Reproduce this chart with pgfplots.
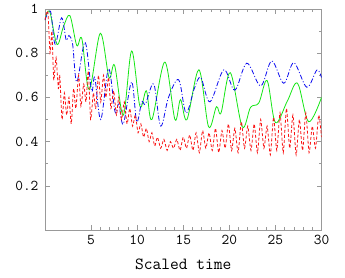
\documentclass[border=0pt]{standalone}
\usepackage{pgfplots}
\pgfplotsset{compat=1.18}
\definecolor{cgreen}{RGB}{20,230,20}
\definecolor{cblue}{RGB}{10,10,240}
\definecolor{cred}{RGB}{250,20,20}
\begin{document}
\begin{tikzpicture}
\path (-45pt,-47pt) rectangle (300pt,230pt);
\begin{axis}[scale only axis, width=276.5pt, height=221pt, at={(0,0)}, anchor=south west,
  xmin=0, xmax=30, ymin=0, ymax=1,
  xtick={5,10,15,20,25,30}, ytick={0.2,0.4,0.6,0.8,1},
  xticklabels={5,10,15,20,25,30},
  yticklabels={0.2,0.4,0.6,0.8,1},
  minor x tick num=4, minor y tick num=1,
  tick align=inside, major tick length=5pt, minor tick length=3pt,
  axis line style={gray!80, line width=0.8pt},
  every tick/.style={gray!80, line width=0.6pt},
  tick label style={black, font=\ttfamily\fontsize{15}{15}\selectfont},
  xticklabel style={yshift=-2pt},
  yticklabel style={xshift=-3pt},
  /pgf/number format/assume math mode=true,
  xlabel={Scaled time},
  xlabel style={font=\ttfamily\fontsize{17}{17}\selectfont, black,
    at={(axis description cs:0.5,0)}, anchor=base, yshift=-39pt},
  clip=true]
\addplot[cgreen, line width=0.8pt, smooth, tension=0.55] coordinates {
(0,0.95)(0.5,0.99)(1.3,0.84)(2.0,0.92)(2.7,0.97)(3.45,0.835)(4.0,0.865)(4.8,0.635)
(6.0,0.89)(6.95,0.69)(7.55,0.745)(8.5,0.52)(9.4,0.81)(10.3,0.56)(11.0,0.63)(11.6,0.50)
(13.0,0.76)(14.1,0.50)(14.7,0.59)(15.4,0.50)(16.7,0.725)(17.75,0.467)(18.6,0.558)(19.1,0.53)
(20.1,0.712)(21.4,0.467)(22.3,0.555)(23.2,0.575)(24.1,0.676)(25.0,0.486)(26.3,0.584)
(27.4,0.664)(28.6,0.49)(30,0.60)};
\addplot[cblue, line width=0.8pt, smooth, tension=0.55, dash pattern=on 5pt off 2pt on 1pt off 2pt] coordinates {
(0,0.95)(0.6,0.99)(1.1,0.84)(1.8,0.96)(2.3,0.86)(2.6,0.88)(3.0,0.84)(3.45,0.67)(4.35,0.85)
(5.05,0.63)(5.4,0.69)(6.05,0.50)(6.9,0.73)(7.6,0.535)(8.0,0.57)(8.5,0.48)(9.4,0.67)
(9.95,0.49)(10.5,0.58)(10.9,0.57)(11.8,0.66)(12.55,0.47)(13.4,0.60)(14.5,0.68)(15.3,0.53)
(16.2,0.64)(16.9,0.69)(17.9,0.58)(19.4,0.725)(20.6,0.633)(21.9,0.755)(23.4,0.652)
(24.6,0.765)(25.9,0.664)(27.0,0.757)(28.4,0.646)(29.5,0.724)(30,0.69)};
\addplot[cred, line width=0.8pt, smooth, tension=0.4, dash pattern=on 3pt off 2pt] coordinates {
(0,0.95)(0.3,0.99)(0.55,0.80)(0.75,0.90)(0.95,0.68)(1.2,0.78)(1.45,0.64)(1.6,0.70)
(1.85,0.50)(2.1,0.62)(2.35,0.52)(2.6,0.60)(2.85,0.48)(3.1,0.64)(3.35,0.55)(3.65,0.70)
(3.9,0.56)(4.2,0.66)(4.45,0.58)(4.7,0.72)(4.95,0.50)(5.25,0.62)(5.5,0.55)(5.8,0.70)
(6.05,0.58)(6.35,0.70)(6.6,0.60)(6.9,0.69)(7.15,0.55)(7.45,0.63)(7.75,0.52)(8.0,0.60)
(8.3,0.50)(8.6,0.58)(8.9,0.48)(9.2,0.55)(9.5,0.47)(9.8,0.52)(10.1,0.44)(10.4,0.48)
(10.7,0.42)(11.0,0.46)(11.3,0.40)(11.6,0.44)(11.9,0.38)
(12.2,0.42)(12.55,0.37)(12.9,0.41)(13.25,0.36)(13.6,0.40)(13.95,0.37)(14.3,0.41)(14.65,0.36)
(15.0,0.42)(15.35,0.37)(15.7,0.43)(16.05,0.36)(16.4,0.44)(16.75,0.35)(17.1,0.45)(17.45,0.37)
(17.8,0.44)(18.15,0.36)(18.5,0.46)(18.85,0.35)(19.2,0.45)(19.55,0.37)(19.9,0.48)(20.25,0.36)
(20.6,0.46)(20.95,0.35)(21.3,0.49)(21.65,0.37)(22.0,0.47)(22.35,0.36)(22.7,0.48)(23.05,0.35)
(23.4,0.50)(23.75,0.37)(24.1,0.47)(24.45,0.34)(24.8,0.51)(25.15,0.36)(25.5,0.53)(25.85,0.35)
(26.2,0.55)(26.55,0.37)(26.9,0.52)(27.25,0.34)(27.6,0.50)(27.95,0.36)(28.3,0.53)(28.65,0.35)
(29.0,0.47)(29.35,0.37)(29.7,0.52)(30,0.42)};
\end{axis}
\end{tikzpicture}
\end{document}
